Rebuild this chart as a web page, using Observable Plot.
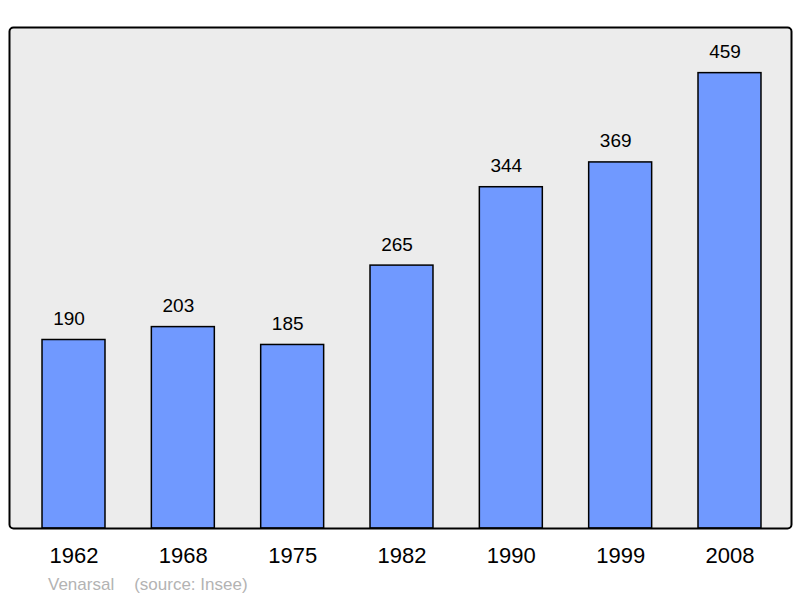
<!DOCTYPE html>
<html><head><meta charset="utf-8">
<script src="https://cdn.jsdelivr.net/npm/d3@7"></script>
<script src="https://cdn.jsdelivr.net/npm/@observablehq/plot@0.6"></script>
<style>
body{margin:0;background:#fff;font-family:"Liberation Sans",Arial,sans-serif;}
#cap{font-size:17px;color:#b3b3b3;white-space:pre;padding-left:48px;line-height:20px;margin-top:1px;}
#cap span + span{margin-left:20px;}
</style>
</head><body>
<div id="chart"></div>
<div id="cap"></div>
<script>
const years = ["1962","1968","1975","1982","1990","1999","2008"];
const population = [190,203,185,265,344,369,459];
const captionParts = ["Venarsal", "(source: Insee)"];
const data = years.map((y,i)=>({year:y, pop:population[i]}));
const chart = Plot.plot({
  width: 800, height: 574,
  marginLeft: 9, marginRight: 9, marginTop: 27, marginBottom: 46,
  style: {fontFamily: '"Liberation Sans", Arial, sans-serif', background: "#fff"},
  x: {domain: years, range: [9, 794], paddingInner: 0.424, paddingOuter: 0.302, round: false, label: null},
  y: {domain: [0, 505], axis: null},
  marks: [
    Plot.frame({fill: "#ececec", rx: 4}),
    Plot.barY(data, {x: "year", y: "pop", fill: "#7099ff", stroke: "#000", strokeWidth: 1.5}),
    Plot.text(data, {x: "year", y: "pop", text: d => String(d.pop), lineAnchor: "bottom", dy: -15, dx: -5, fontSize: 19, fill: "#000"}),
    Plot.axisX({tickSize: 0, tickPadding: 19, fontSize: 22, fill: "#000"}),
    Plot.frame({stroke: "#000", strokeWidth: 2, rx: 4})
  ]
});
document.getElementById("chart").appendChild(chart);
const cap = document.getElementById("cap");
for (const t of captionParts) { const s = document.createElement("span"); s.textContent = t; cap.appendChild(s); }
</script>
</body></html>
